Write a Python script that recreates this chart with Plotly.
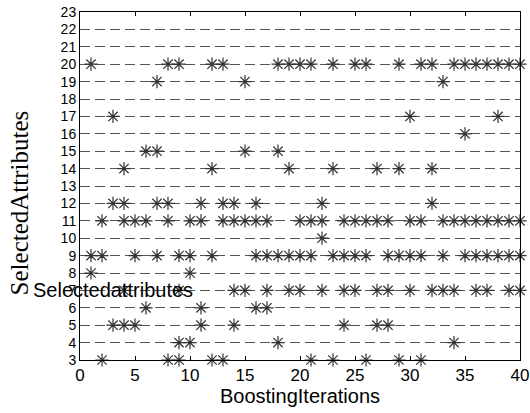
import plotly.graph_objects as go

# Selected attribute index -> boosting iterations in which it was selected
rows = {
    20: [1, 8, 9, 12, 13, 18, 19, 20, 21, 23, 25, 26, 29, 31, 32, 34, 35, 36, 37, 38, 39, 40],
    19: [7, 15, 33],
    17: [3, 30, 38],
    16: [35],
    15: [6, 7, 15, 18],
    14: [4, 12, 19, 23, 27, 29, 32],
    12: [3, 4, 7, 8, 11, 13, 14, 16, 22, 32],
    11: [2, 4, 5, 6, 8, 10, 11, 13, 14, 15, 16, 17, 20, 21, 22, 24, 25, 26, 27, 28,
         30, 31, 33, 34, 35, 36, 37, 38, 39, 40],
    10: [22],
    9: [1, 2, 5, 7, 9, 10, 12, 16, 17, 18, 19, 20, 21, 23, 24, 25, 26, 28, 29, 30,
        31, 33, 35, 36, 37, 38, 39, 40],
    8: [1, 10],
    7: [4, 9, 14, 15, 17, 19, 20, 22, 24, 25, 27, 28, 30, 32, 33, 34, 36, 37, 39, 40],
    6: [6, 11, 16, 17],
    5: [3, 4, 5, 11, 14, 24, 27, 28],
    4: [9, 10, 18, 34],
    3: [2, 8, 9, 12, 13, 21, 23, 26, 29, 31],
}

iterations = []
attributes = []
for attr, its in rows.items():
    for it in its:
        iterations.append(it)
        attributes.append(attr)

x_ticks = [0, 5, 10, 15, 20, 25, 30, 35, 40]
y_ticks = list(range(3, 24))

fig = go.Figure()
fig.add_trace(go.Scatter(
    x=iterations, y=attributes, mode="markers",
    marker=dict(symbol="asterisk-open", size=11, color="#333",
                line=dict(width=1.2, color="#333")),
    cliponaxis=False, showlegend=False,
))

fig.update_layout(
    width=530, height=413,
    margin=dict(l=80, r=10, t=12, b=53, autoexpand=False),
    paper_bgcolor="white", plot_bgcolor="white",
    font=dict(family="Liberation Sans, Arial, sans-serif", color="black", size=14),
    xaxis=dict(
        range=[0, 40], tickvals=x_ticks, ticks="inside", ticklen=4, tickcolor="black",
        showline=True, linecolor="black", linewidth=1, mirror="ticks",
        showgrid=False, zeroline=False, automargin=False,
        tickfont=dict(size=17),
        title=dict(text="BoostingIterations", font=dict(size=20), standoff=0),
    ),
    yaxis=dict(
        range=[3, 23], tickvals=y_ticks, ticks="", automargin=False,
        showline=True, linecolor="black", linewidth=1, mirror=True,
        showgrid=True, gridcolor="#555", griddash="10px,5px", gridwidth=1,
        zeroline=False,
        tickfont=dict(size=14),
    ),
    annotations=[
        dict(
            text="SelectedAttributes", x=0, y=0.45, xref="paper", yref="paper",
            xanchor="center", yanchor="middle", xshift=-61, textangle=-90,
            showarrow=False,
            font=dict(family="Liberation Serif, Times New Roman, serif", size=25,
                      color="black"),
        ),
        dict(
            text="Selectedattributes", x=10.45, y=7, xref="x", yref="y",
            xanchor="right", yanchor="middle", showarrow=False,
            font=dict(size=20, color="black"),
        ),
    ],
)

fig.write_html("out.html")
